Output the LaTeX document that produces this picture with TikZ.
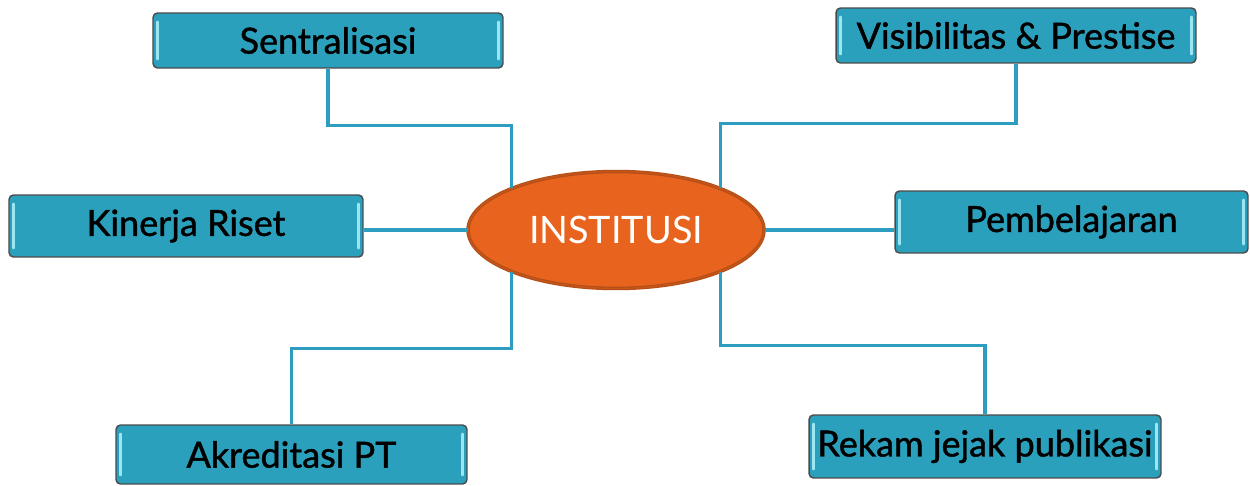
\documentclass[tikz,border=0pt]{standalone}
\usepackage{fontspec}
\setmainfont{Lato}
\newfontfamily\topicfont{Lato}[FakeBold=1.2]
\usepackage{xcolor}
\usepackage{tikz}
\usetikzlibrary{shapes.geometric,positioning}

\definecolor{boxteal}{HTML}{2BA0BD}
\definecolor{boxedge}{HTML}{4A4A4A}
\definecolor{boxshine}{HTML}{9BE6F2}
\definecolor{linkteal}{HTML}{2E9EC0}
\definecolor{hubfill}{HTML}{E8641E}
\definecolor{hubedge}{HTML}{B24E18}

\begin{document}
\begin{tikzpicture}[x=0.02cm, y=-0.02cm,
                    topic/.style={draw=boxedge, line width=0.8pt, fill=boxteal,
                                  rounded corners=2.5pt, minimum width=7cm,
                                  minimum height=1.2cm, inner sep=1pt,
                                  font=\topicfont\fontsize{20.5}{22}\selectfont,
                                  path picture={
                                    \draw[boxshine, line width=1.4pt, line cap=round]
                                      ([xshift=2.5pt,yshift=-5pt]path picture bounding box.north west)
                                      -- ([xshift=2.5pt,yshift=5pt]path picture bounding box.south west)
                                      ([xshift=-2.5pt,yshift=-5pt]path picture bounding box.north east)
                                      -- ([xshift=-2.5pt,yshift=5pt]path picture bounding box.south east);}},
                    hub/.style={ellipse, draw=hubedge, double=hubfill!85!black,
                                double distance=0.8pt, line width=0.6pt, fill=hubfill,
                                minimum width=5.92cm, minimum height=2.34cm,
                                text=white, font=\fontsize{21.5}{24}\selectfont},
                    link/.style={draw=linkteal, line width=1.8pt}]
    %\draw[help lines] (0,0) grid[step=50] (1250,486);
    \useasboundingbox (0,0) rectangle (1250,486);

   \node[hub] (institusi) at (616,230) {INSTITUSI};

   \node[topic, minimum height=1.1cm] (sentralisasi) at (328,40.5) {Sentralisasi};
   \node[topic, minimum width=7.2cm, minimum height=1.1cm] (visibilitas) at (1016,35.5) {Visibilitas \& Prestise};
   \node[topic, minimum width=7.08cm, minimum height=1.24cm] (kinerja_riset) at (186,226) {Kinerja Riset};
   \node[topic, minimum width=7.06cm, minimum height=1.24cm] (pembelajaran) at (1071.5,222) {Pembelajaran};
   \node[topic, minimum width=7.02cm, minimum height=1.18cm] (akreditasi) at (291.5,454.5) {Akreditasi PT};
   \node[topic, minimum width=7.04cm, minimum height=1.26cm] (rekam_jejak) at (985,446.5) {Rekam jejak publikasi};

   % Connectors to the hub
   \path[link]
    (sentralisasi.south) -- ++(0,57) -| (institusi.158)
    (visibilitas.south) -- ++(0,60) -| (institusi.22)
    (institusi.west) -- (institusi.west -| kinerja_riset.east)
    (institusi.east) -- (institusi.east -| pembelajaran.west)
    (akreditasi.north) -- ++(0,-76) -| (institusi.202)
    (rekam_jejak.north) -- ++(0,-69) -| (institusi.338);

\end{tikzpicture}
\end{document}
